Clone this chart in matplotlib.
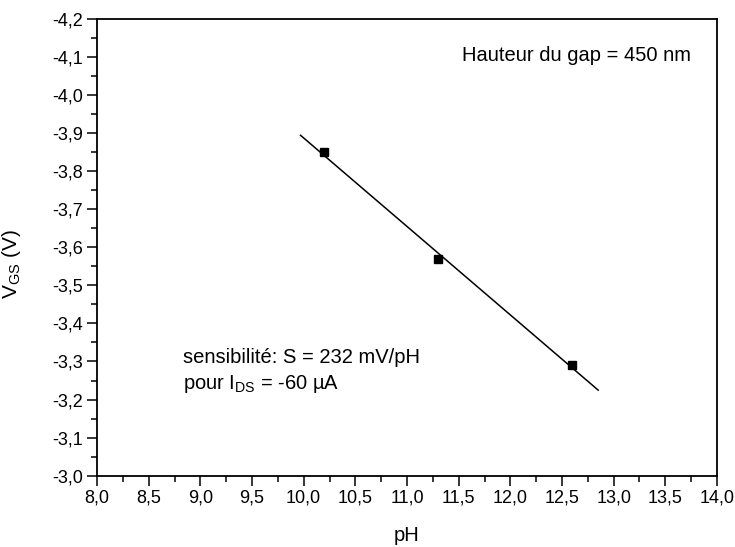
import numpy as np
import matplotlib.pyplot as plt
from matplotlib.ticker import MultipleLocator, FuncFormatter

plt.rcParams['font.family'] = ['Liberation Sans', 'DejaVu Sans']
plt.rcParams['mathtext.default'] = 'regular'

# Data
ph = [10.2, 11.3, 12.6]
vgs = [-3.85, -3.57, -3.29]
fit_range = [9.97, 12.85]

# Linear fit
slope, intercept = np.polyfit(ph, vgs, 1)
fit_x = np.array(fit_range)
fit_y = slope * fit_x + intercept

fig = plt.figure(figsize=(7.35, 5.47), dpi=100)
ax = fig.add_axes([0.132, 0.1307, 0.8435, 0.8337])

ax.plot(fit_x, fit_y, color='black', linewidth=1.1)
ax.plot(ph, vgs, linestyle='none', marker='s', markersize=6, color='black')

ax.set_xlim(8.0, 14.0)
ax.set_ylim(-3.0, -4.2)

ax.xaxis.set_major_locator(MultipleLocator(0.5))
ax.xaxis.set_minor_locator(MultipleLocator(0.25))
ax.yaxis.set_major_locator(MultipleLocator(0.1))
ax.yaxis.set_minor_locator(MultipleLocator(0.05))

comma = FuncFormatter(lambda v, p: f'{v:.1f}'.replace('.', ','))
ax.xaxis.set_major_formatter(comma)
ax.yaxis.set_major_formatter(comma)

ax.tick_params(which='major', direction='out', length=7, width=1.1, labelsize=13, pad=3)
ax.tick_params(which='minor', direction='out', length=4, width=1.1)
for s in ax.spines.values():
    s.set_linewidth(1.3)

ax.set_xlabel('pH', fontsize=14.5)
ax.xaxis.set_label_coords(0.5, -0.11)
ax.set_ylabel('V$_{GS}$ (V)', fontsize=15)
ax.yaxis.set_label_coords(-0.12, 0.464)

ax.text(0.773, 0.922, 'Hauteur du gap = 450 nm', transform=ax.transAxes,
        fontsize=14.5, va='center', ha='center')
ax.text(0.139, 0.258, 'sensibilité: S = 232 mV/pH', transform=ax.transAxes,
        fontsize=14.5, va='center', ha='left')
ax.text(0.139, 0.201, 'pour I$_{DS}$ = -60 µA', transform=ax.transAxes,
        fontsize=14.5, va='center', ha='left')

fig.savefig('out.png', dpi=100)
